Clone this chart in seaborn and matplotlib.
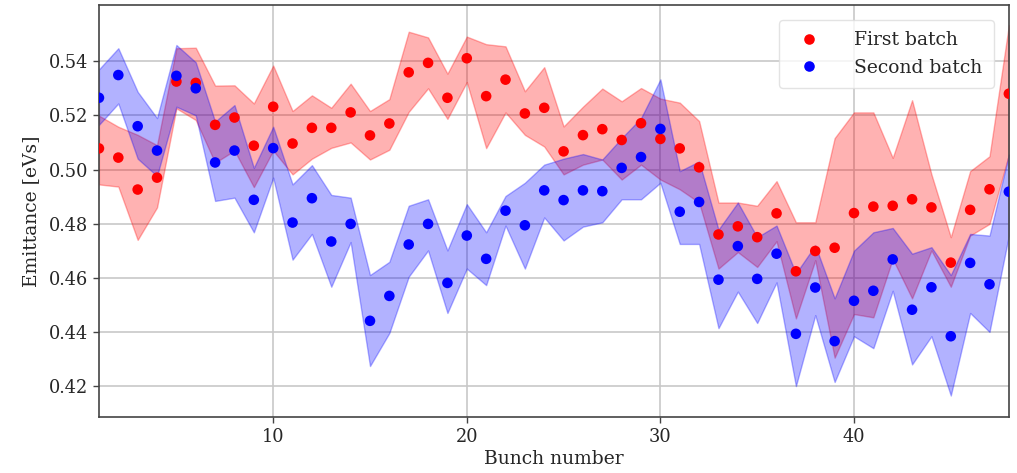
import numpy as np
import pandas as pd
import matplotlib
matplotlib.use("Agg")
import matplotlib.pyplot as plt
import seaborn as sns

bunch = list(range(1, 49))

first_mean = [0.5078, 0.5044, 0.4926, 0.4970, 0.5325, 0.5320, 0.5165, 0.5192, 0.5088, 0.5232,
              0.5096, 0.5154, 0.5154, 0.5211, 0.5126, 0.5170, 0.5359, 0.5394, 0.5265, 0.5411,
              0.5271, 0.5332, 0.5207, 0.5228, 0.5067, 0.5127, 0.5149, 0.5109, 0.5171, 0.5113,
              0.5078, 0.5008, 0.4760, 0.4790, 0.4750, 0.4838, 0.4624, 0.4699, 0.4711, 0.4839,
              0.4863, 0.4866, 0.4890, 0.4860, 0.4656, 0.4851, 0.4927, 0.5280]
first_upper = [0.5199, 0.5158, 0.5128, 0.5090, 0.5448, 0.5450, 0.5310, 0.5311, 0.5244, 0.5384,
               0.5216, 0.5274, 0.5228, 0.5317, 0.5216, 0.5260, 0.5509, 0.5488, 0.5354, 0.5491,
               0.5463, 0.5455, 0.5289, 0.5378, 0.5159, 0.5232, 0.5299, 0.5252, 0.5301, 0.5262,
               0.5247, 0.5179, 0.4878, 0.4878, 0.4866, 0.4957, 0.4805, 0.4805, 0.5116, 0.5211,
               0.5211, 0.5043, 0.5256, 0.4982, 0.4750, 0.4994, 0.5049, 0.5533]
first_lower = [0.4945, 0.4937, 0.4740, 0.4860, 0.5226, 0.5183, 0.5025, 0.5070, 0.4935, 0.5070,
               0.4982, 0.5040, 0.5080, 0.5100, 0.5037, 0.5073, 0.5213, 0.5300, 0.5187, 0.5323,
               0.5079, 0.5211, 0.5128, 0.5085, 0.4982, 0.5018, 0.5037, 0.4963, 0.5018, 0.4963,
               0.4927, 0.4878, 0.4634, 0.4695, 0.4640, 0.4735, 0.4450, 0.4665, 0.4305, 0.4466,
               0.4454, 0.4670, 0.4524, 0.4701, 0.4567, 0.4756, 0.4799, 0.5055]

second_mean = [0.5265, 0.5349, 0.5160, 0.5070, 0.5346, 0.5300, 0.5026, 0.5070, 0.4888, 0.5079,
               0.4804, 0.4894, 0.4734, 0.4799, 0.4441, 0.4533, 0.4723, 0.4799, 0.4581, 0.4756,
               0.4670, 0.4848, 0.4794, 0.4923, 0.4887, 0.4923, 0.4920, 0.5006, 0.5046, 0.5150,
               0.4844, 0.4880, 0.4593, 0.4717, 0.4596, 0.4689, 0.4393, 0.4564, 0.4366, 0.4515,
               0.4552, 0.4668, 0.4482, 0.4565, 0.4384, 0.4655, 0.4576, 0.4918]
second_upper = [0.5370, 0.5448, 0.5287, 0.5190, 0.5460, 0.5396, 0.5177, 0.5238, 0.5006, 0.5158,
                0.4945, 0.5016, 0.4906, 0.4896, 0.4610, 0.4659, 0.4866, 0.4890, 0.4701, 0.4872,
                0.4768, 0.4902, 0.4951, 0.5018, 0.5040, 0.5057, 0.5037, 0.5116, 0.5190, 0.5333,
                0.4994, 0.5030, 0.4778, 0.4878, 0.4750, 0.4793, 0.4616, 0.4720, 0.4524, 0.4700,
                0.4768, 0.4784, 0.4689, 0.4713, 0.4610, 0.4762, 0.4756, 0.5055]
second_lower = [0.5165, 0.5244, 0.5040, 0.4976, 0.5232, 0.5200, 0.4884, 0.4896, 0.4768, 0.4970,
                0.4667, 0.4762, 0.4567, 0.4732, 0.4274, 0.4396, 0.4604, 0.4701, 0.4470, 0.4634,
                0.4573, 0.4793, 0.4634, 0.4823, 0.4738, 0.4789, 0.4805, 0.4890, 0.4890, 0.4951,
                0.4725, 0.4725, 0.4414, 0.4549, 0.4433, 0.4583, 0.4200, 0.4462, 0.4215, 0.4384,
                0.4340, 0.4552, 0.4280, 0.4384, 0.4165, 0.4470, 0.4400, 0.4756]

df = pd.DataFrame({
    "Bunch number": bunch * 2,
    "Emittance [eVs]": first_mean + second_mean,
    "batch": ["First batch"] * len(bunch) + ["Second batch"] * len(bunch),
})

sns.set_theme(style="whitegrid")
plt.rcParams["font.family"] = ["DejaVu Serif"]
plt.rcParams["axes.edgecolor"] = "#444444"

fig = plt.figure(figsize=(10.17, 4.73), dpi=100)
ax = fig.add_axes([0.0973, 0.118, 0.8947, 0.871])

ax.fill_between(bunch, first_lower, first_upper, color="red", alpha=0.3, linewidth=1)
ax.fill_between(bunch, second_lower, second_upper, color="blue", alpha=0.3, linewidth=1)

sns.scatterplot(data=df, x="Bunch number", y="Emittance [eVs]", hue="batch",
                palette={"First batch": "red", "Second batch": "blue"},
                s=58, edgecolor="none", ax=ax, zorder=3)

ax.set_xlim(1, 48)
ax.set_ylim(0.4085, 0.5607)
ax.set_xticks([10, 20, 30, 40])
ax.set_yticks([0.42, 0.44, 0.46, 0.48, 0.50, 0.52, 0.54])
ax.set_yticklabels([f"{v:.2f}" for v in [0.42, 0.44, 0.46, 0.48, 0.50, 0.52, 0.54]])
ax.tick_params(axis="both", labelsize=12.8, length=4, width=1, color="#444444",
               left=True, bottom=True, pad=4)
ax.grid(True, color="#c8c8c8", linewidth=1.2)
ax.set_xlabel("Bunch number", fontsize=13.5, labelpad=3)
ax.set_ylabel("Emittance [eVs]", fontsize=13.5, labelpad=6)
for sp in ax.spines.values():
    sp.set_linewidth(1.2)

leg = ax.legend(loc="upper right", fontsize=13.5, frameon=True, framealpha=0.8,
                borderpad=0.6, labelspacing=0.5, handletextpad=1.4,
                markerscale=1.0, borderaxespad=0.8)
leg.get_frame().set_edgecolor("#dddddd")

fig.savefig("out.png", dpi=100)
